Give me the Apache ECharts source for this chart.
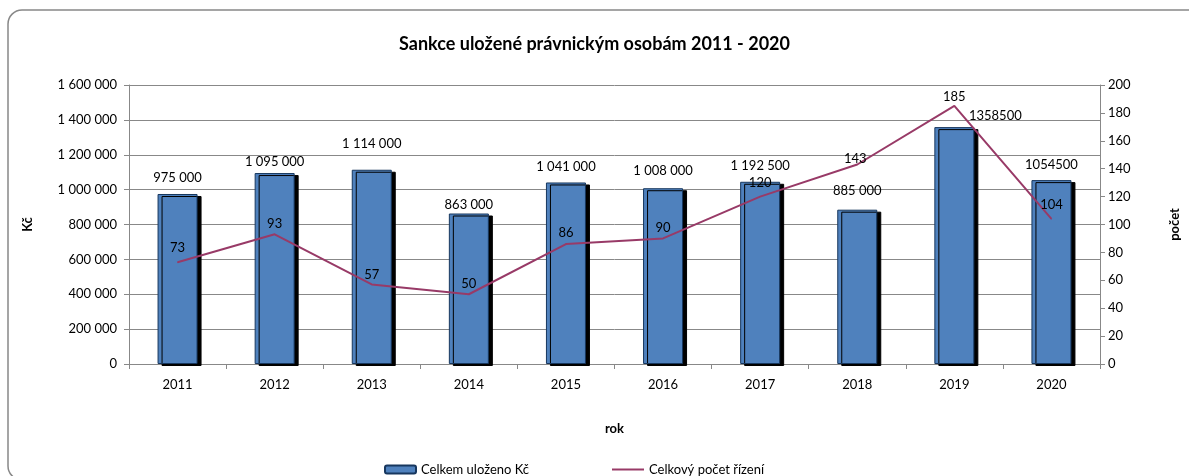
<!DOCTYPE html>
<html>
<head>
<meta charset="utf-8">
<script src="https://cdn.jsdelivr.net/npm/echarts@6/dist/echarts.min.js"></script>
<style>
  html, body { margin: 0; padding: 0; background: #fff; }
  #chart { width: 1189px; height: 476px; }
</style>
</head>
<body>
<div id="chart"></div>
<script>
const years = ['2011', '2012', '2013', '2014', '2015', '2016', '2017', '2018', '2019', '2020'];
// výška sloupce 2017 (popisek v originále uvádí 1 192 500)
const amounts = [975000, 1095000, 1114000, 863000, 1041000, 1008000, 1045000, 885000, 1358500, 1054500];
const amountLabels = ['975 000', '1 095 000', '1 114 000', '863 000', '1 041 000', '1 008 000', '1 192 500', '885 000', '1358500', '1054500'];
const counts = [73, 93, 57, 50, 86, 90, 120, 143, 185, 104];

const font = 'Lato, "Open Sans", sans-serif';
const chart = echarts.init(document.getElementById('chart'));

// mezery mezi tisíci jako v originále
const fmt = v => String(v).replace(/\B(?=(\d{3})+(?!\d))/g, ' ');

// ručně posunuté popisky (jako v Excelu)
const barLabelShift = { 0: [0, -1], 1: [0, 4], 2: [0, -10], 3: [0, 7], 5: [0, -2], 7: [0, -3], 8: [41, 4] };
const lineLabelShift = { 1: [0, 4], 2: [0, 4], 3: [0, 4], 4: [0, 3], 5: [0, 3], 7: [-2, 8], 8: [0, 5] };

const option = {
  animation: false,
  textStyle: { fontFamily: font },
  title: {
    text: 'Sankce uložené právnickým osobám 2011 - 2020',
    left: 'center',
    top: 30,
    textStyle: { fontSize: 18, fontWeight: 'bold', color: '#000', fontFamily: font }
  },
  graphic: [{
    type: 'rect',
    shape: { x: 8, y: 10, width: 1200, height: 470, r: 14 },
    style: { fill: 'none', stroke: '#888', lineWidth: 1.5 },
    silent: true
  }],
  legend: [
    {
      data: ['Celkem uloženo Kč'],
      left: 379, top: 458,
      itemWidth: 31, itemHeight: 8,
      textStyle: { fontSize: 13, color: '#000', fontFamily: font }
    },
    {
      data: [{ name: 'Celkový počet řízení', icon: 'path://M0,0 L32,0 L32,2 L0,2 Z' }],
      left: 607, top: 458,
      itemWidth: 32, itemHeight: 8,
      textStyle: { fontSize: 13, color: '#000', fontFamily: font }
    }
  ],
  grid: { left: 129, right: 88, top: 85, bottom: 112 },
  xAxis: {
    type: 'category',
    data: years,
    name: 'rok',
    nameLocation: 'middle',
    nameGap: 58,
    nameTextStyle: { fontSize: 13, fontWeight: 'bold', color: '#000' },
    axisLine: { lineStyle: { color: '#888', width: 1 } },
    axisTick: { show: true, length: 5, lineStyle: { color: '#888' } },
    axisLabel: { fontSize: 13, color: '#000', margin: 14 }
  },
  yAxis: [
    {
      type: 'value',
      min: 0, max: 1600000, interval: 200000,
      name: 'Kč',
      nameLocation: 'middle',
      nameRotate: 90,
      nameGap: 95,
      nameTextStyle: { fontSize: 13, fontWeight: 'bold', color: '#000' },
      axisLine: { show: true, lineStyle: { color: '#888' } },
      axisTick: { show: true, length: 5, lineStyle: { color: '#888' } },
      axisLabel: { fontSize: 13, color: '#000', margin: 12, formatter: fmt },
      splitLine: { lineStyle: { color: '#888', width: 1 } }
    },
    {
      type: 'value',
      min: 0, max: 200, interval: 20,
      name: 'počet',
      nameLocation: 'middle',
      nameRotate: 90,
      nameGap: 68,
      nameTextStyle: { fontSize: 13, fontWeight: 'bold', color: '#000' },
      axisLine: { show: true, lineStyle: { color: '#888' } },
      axisTick: { show: true, length: 5, lineStyle: { color: '#888' } },
      axisLabel: { fontSize: 13, color: '#000', margin: 8 },
      splitLine: { show: false }
    }
  ],
  series: [
    {
      name: 'Celkem uloženo Kč',
      type: 'bar',
      barWidth: 40,
      data: amounts.map((v, i) => barLabelShift[i]
        ? { value: v, label: { offset: barLabelShift[i] } }
        : v),
      itemStyle: {
        color: '#4f81bd',
        borderColor: '#17375e',
        borderWidth: 1,
        shadowColor: '#000',
        shadowOffsetX: 4,
        shadowOffsetY: 2,
        shadowBlur: 0
      },
      label: {
        show: true,
        position: 'top',
        distance: 9,
        fontSize: 13,
        color: '#000',
        formatter: p => amountLabels[p.dataIndex]
      },
      z: 2
    },
    {
      name: 'Celkový počet řízení',
      type: 'line',
      yAxisIndex: 1,
      data: counts.map((v, i) => lineLabelShift[i]
        ? { value: v, label: { offset: lineLabelShift[i] } }
        : v),
      symbol: 'circle',
      symbolSize: 1,
      lineStyle: { color: '#983a67', width: 2 },
      itemStyle: { color: '#983a67' },
      label: {
        show: true,
        position: 'top',
        distance: 7,
        fontSize: 13,
        color: '#000'
      },
      z: 3
    }
  ]
};

chart.setOption(option);
</script>
</body>
</html>
